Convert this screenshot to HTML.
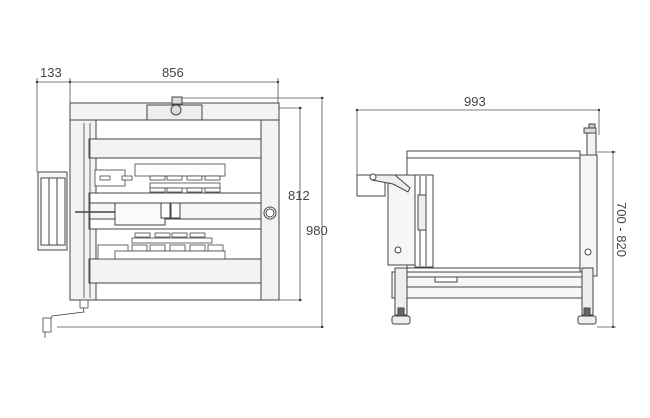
<!DOCTYPE html>
<html><head><meta charset="utf-8"><style>
html,body{margin:0;padding:0;background:#fff;width:650px;height:418px;overflow:hidden}
svg{display:block}
text{font-family:"Liberation Sans",sans-serif;fill:#444;font-size:13px}
</style></head><body>
<svg width="650" height="418" viewBox="0 0 650 418" xmlns="http://www.w3.org/2000/svg">
<g stroke="#555" stroke-width="0.8" fill="none">
<!-- LEFT VIEW dims -->
<line x1="37" y1="82" x2="278" y2="82"/>
<line x1="37" y1="78" x2="37" y2="172"/>
<line x1="70" y1="78" x2="70" y2="103"/>
<line x1="278" y1="78" x2="278" y2="103"/>
<line x1="172" y1="98" x2="324" y2="98"/>
<line x1="279" y1="108" x2="302" y2="108"/>
<line x1="279" y1="300" x2="302" y2="300"/>
<line x1="57" y1="327" x2="324" y2="327"/>
<line x1="300" y1="108" x2="300" y2="300"/>
<line x1="322" y1="98" x2="322" y2="327"/>
</g>
<g fill="#333">
<circle cx="300" cy="108" r="1.2"/><circle cx="300" cy="300" r="1.2"/>
<circle cx="322" cy="98" r="1.2"/><circle cx="322" cy="327" r="1.2"/>
<circle cx="70" cy="82" r="1.2"/><circle cx="37" cy="82" r="1.2"/><circle cx="278" cy="82" r="1.2"/>
</g>
<text x="40" y="77">133</text>
<text x="162" y="77">856</text>
<text x="288" y="200">812</text>
<text x="306" y="235">980</text>

<g stroke="#444" stroke-width="1" fill="#f3f3f3">
<!-- frame -->
<rect x="70" y="103" width="209" height="17"/>
<rect x="147" y="105" width="55" height="15" fill="#eee"/>
<rect x="172" y="97" width="10" height="7" fill="#ddd"/>
<rect x="70" y="120" width="26" height="180" fill="#f3f3f3"/>
<rect x="261" y="120" width="18" height="180"/>
<rect x="96" y="120" width="165" height="180" fill="#fff"/>
<!-- bars -->
<rect x="89" y="139" width="172" height="19"/>
<rect x="89" y="193" width="172" height="10" fill="#fff"/>
<rect x="89" y="203" width="172" height="16" fill="#f6f6f6"/>
<rect x="89" y="219" width="172" height="10" fill="#fff"/>
<rect x="89" y="259" width="172" height="24"/>
<!-- control panel -->
<rect x="38" y="172" width="29" height="78" fill="#f6f6f6"/>
<rect x="41" y="178" width="8" height="67" fill="#fff"/>
<rect x="49" y="178" width="8" height="67" fill="#fff"/>
<rect x="57" y="178" width="8" height="67" fill="#fff"/>
<!-- center box -->
<rect x="115" y="203" width="50" height="22" fill="#fafafa"/>
<rect x="161" y="203" width="9" height="15" fill="#fff"/>
<rect x="171" y="203" width="9" height="15" fill="#fff"/>
<circle cx="270" cy="213" r="6" fill="#fff"/>
<circle cx="270" cy="213" r="4" fill="#fff"/>
<circle cx="176" cy="110" r="5" fill="#ddd"/>
</g>
<g stroke="#444" stroke-width="0.8" fill="#fff">
<!-- upper fixtures -->
<rect x="135" y="164" width="90" height="12"/>
<rect x="95" y="170" width="30" height="16"/>
<rect x="100" y="176" width="10" height="4"/><rect x="122" y="176" width="10" height="4"/>
<rect x="150" y="176" width="15" height="4"/><rect x="167" y="176" width="15" height="4"/>
<rect x="187" y="176" width="15" height="4"/><rect x="205" y="176" width="15" height="4"/>
<rect x="150" y="183" width="70" height="5"/>
<rect x="150" y="188" width="15" height="4"/><rect x="167" y="188" width="15" height="4"/>
<rect x="187" y="188" width="15" height="4"/><rect x="205" y="188" width="15" height="4"/>
<!-- lower fixtures -->
<rect x="135" y="233" width="15" height="4"/><rect x="155" y="233" width="15" height="4"/>
<rect x="172" y="233" width="15" height="4"/><rect x="190" y="233" width="15" height="4"/>
<rect x="132" y="238" width="80" height="5"/>
<rect x="98" y="245" width="30" height="14"/>
<rect x="132" y="245" width="15" height="6"/><rect x="150" y="245" width="15" height="6"/>
<rect x="170" y="245" width="15" height="6"/><rect x="190" y="245" width="15" height="6"/>
<rect x="208" y="245" width="15" height="6"/>
<rect x="115" y="251" width="110" height="8"/>
<!-- rails -->
<line x1="84" y1="123" x2="84" y2="298"/>
<line x1="90" y1="123" x2="90" y2="298"/>
<line x1="75" y1="212" x2="115" y2="212" stroke-width="1.5"/>
<!-- crank -->
<path d="M82 302 L84 312 L52 316 L50 322 L45 322 L45 338"/>
<rect x="43" y="318" width="8" height="14"/>
<rect x="80" y="300" width="8" height="8"/>
</g>

<!-- RIGHT VIEW -->
<g stroke="#555" stroke-width="0.8" fill="none">
<line x1="357" y1="110" x2="599" y2="110"/>
<line x1="357" y1="110" x2="357" y2="196"/>
<line x1="599" y1="110" x2="599" y2="135"/>
<line x1="597" y1="152" x2="616" y2="152"/>
<line x1="597" y1="327" x2="616" y2="327"/>
<line x1="613" y1="152" x2="613" y2="327"/>
</g>
<g fill="#333">
<circle cx="357" cy="110" r="1.2"/><circle cx="599" cy="110" r="1.2"/>
<circle cx="613" cy="152" r="1.2"/><circle cx="613" cy="327" r="1.2"/>
</g>
<text x="464" y="106">993</text>
<text transform="translate(617,202) rotate(90)">700 - 820</text>

<g stroke="#444" stroke-width="1" fill="#fff">
<rect x="407" y="151" width="173" height="117"/>
<line x1="407" y1="158" x2="580" y2="158"/>
<rect x="580" y="155" width="17" height="121" fill="#f6f6f6"/>
<rect x="587" y="133" width="9" height="22" fill="#f3f3f3"/>
<rect x="584" y="128" width="12" height="5" fill="#ddd"/>
<rect x="589" y="124" width="6" height="4" fill="#ccc"/>
<rect x="357" y="175" width="28" height="21" fill="#fff"/>
<rect x="388" y="175" width="45" height="90" fill="#f6f6f6"/>
<rect x="415" y="175" width="18" height="92"/>
<line x1="420" y1="176" x2="420" y2="266"/><line x1="426" y1="176" x2="426" y2="266"/>
<rect x="418" y="195" width="8" height="35" fill="#eee"/>
<path d="M370 175 L395 175 L410 188 L408 192 L393 184 L372 180 Z" fill="#eee"/>
<circle cx="373" cy="177" r="3"/>
<!-- base -->
<rect x="392" y="272" width="198" height="26" fill="#f6f6f6"/>
<line x1="407" y1="277" x2="582" y2="277"/>
<line x1="407" y1="287" x2="582" y2="287"/>
<rect x="435" y="277" width="22" height="5"/>
<!-- legs -->
<rect x="395" y="268" width="12" height="47" fill="#eee"/>
<rect x="398" y="308" width="6" height="8" fill="#666"/>
<rect x="392" y="316" width="18" height="8" rx="2" fill="#eee"/>
<rect x="582" y="268" width="11" height="47" fill="#eee"/>
<rect x="584" y="308" width="6" height="8" fill="#666"/>
<rect x="578" y="316" width="18" height="8" rx="2" fill="#eee"/>
<circle cx="398" cy="250" r="3"/>
<circle cx="588" cy="252" r="3"/>
</g>
</svg>
</body></html>
